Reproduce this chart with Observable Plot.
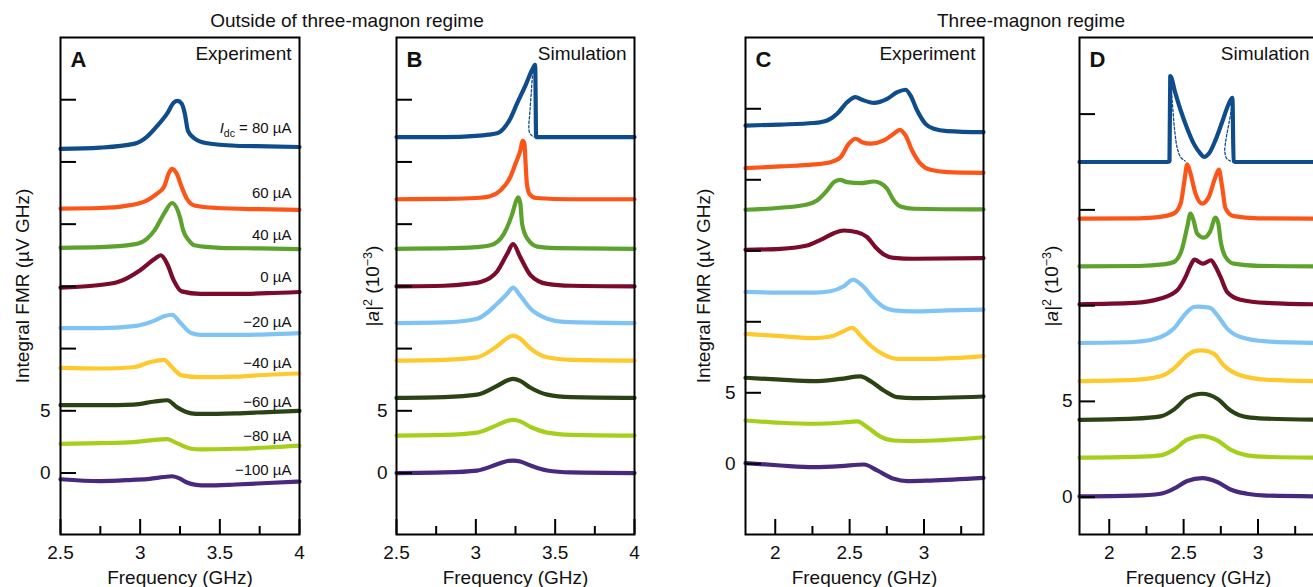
<!DOCTYPE html>
<html><head><meta charset="utf-8">
<script src="https://cdn.jsdelivr.net/npm/d3@7"></script>
<script src="https://cdn.jsdelivr.net/npm/@observablehq/plot@0.6"></script>
<style>
html,body{margin:0;padding:0;background:#fff;overflow:hidden}
#fig{position:relative;width:1313px;height:587px;overflow:hidden;font-family:"Liberation Sans",Arial,sans-serif;color:#111}
.panel{position:absolute;top:0}
.title{position:absolute;top:11px;font-size:19px;line-height:19px;transform:translateX(-50%);white-space:nowrap}
</style></head>
<body><div id="fig"></div>
<script>
// ---------- categories / ticks ----------
const currents = ["80 µA","60 µA","40 µA","0 µA","−20 µA","−40 µA","−60 µA","−80 µA","−100 µA"];
const colors   = ["#0f4c8c","#fd5418","#5ea22e","#7a0b2c","#80c4f5","#fec92c","#2b4214","#a6cf1c","#48297e"];
const curveLabelsA = ["Idc = 80 µA","60 µA","40 µA","0 µA","−20 µA","−40 µA","−60 µA","−80 µA","−100 µA"];
const labelYA = [27.7, 22.45, 19.1, 15.75, 12.1, 8.85, 5.7, 3.0, 0.2];
const freqAB_major = [2.5, 3, 3.5, 4];
const freqAB_minor = [2.75, 3.25, 3.75];
const freqCD_major = [2, 2.5, 3];
const freqCD_minor = [2.25, 2.75, 3.25];
const yTicksAB = [0, 5, 10, 15, 20, 25, 30];
const yTicksC = [0, 5, 10, 15, 20, 25];
const yTicksD = [0, 5, 10, 15, 20];
const yTickLabels = [0, 5];

// ---------- series (frequency GHz, value), order follows `currents` ----------
const expA = [
  [[2.5,26.05],[2.75,26.15],[2.96,26.45],[3.04,27.0],[3.1,27.8],[3.17,28.9],[3.21,29.75],[3.235,29.9],[3.26,29.7],[3.28,28.9],[3.30,27.5],[3.34,26.9],[3.42,26.5],[3.6,26.3],[3.8,26.25],[4.0,26.2]],
  [[2.5,21.25],[2.75,21.3],[2.9,21.45],[3.04,21.9],[3.1,22.4],[3.15,23.0],[3.18,24.1],[3.2,24.45],[3.23,24.05],[3.26,23.0],[3.295,22.0],[3.34,21.5],[3.48,21.3],[3.75,21.2],[4.0,21.15]],
  [[2.5,18.1],[2.75,18.15],[2.96,18.37],[3.04,18.8],[3.09,19.5],[3.15,20.85],[3.2,21.7],[3.25,20.55],[3.27,19.5],[3.305,18.7],[3.34,18.3],[3.5,18.1],[3.75,18.05],[4.0,18.0]],
  [[2.5,14.9],[2.7,15.05],[2.86,15.35],[3.0,16.3],[3.09,17.2],[3.13,17.5],[3.17,16.8],[3.21,15.5],[3.26,14.6],[3.38,14.4],[3.6,14.4],[3.8,14.45],[4.0,14.55]],
  [[2.5,11.65],[2.75,11.65],[2.96,11.8],[3.09,12.25],[3.15,12.6],[3.2,12.72],[3.25,12.1],[3.32,11.25],[3.38,11.1],[3.6,11.1],[3.8,11.15],[4.0,11.25]],
  [[2.5,8.45],[2.75,8.4],[2.96,8.5],[3.06,8.9],[3.15,9.1],[3.2,8.5],[3.26,7.85],[3.38,7.7],[3.6,7.75],[3.8,7.9],[4.0,8.0]],
  [[2.5,5.45],[2.75,5.45],[2.96,5.5],[3.09,5.75],[3.17,5.85],[3.23,5.3],[3.32,4.8],[3.38,4.75],[3.6,4.8],[3.8,4.9],[4.0,5.0]],
  [[2.5,2.35],[2.75,2.4],[2.96,2.48],[3.09,2.67],[3.17,2.72],[3.23,2.4],[3.32,1.95],[3.38,1.9],[3.6,1.95],[3.8,2.05],[4.0,2.2]],
  [[2.5,-0.5],[2.75,-0.65],[2.95,-0.55],[3.06,-0.47],[3.15,-0.32],[3.2,-0.26],[3.25,-0.45],[3.29,-0.74],[3.35,-0.95],[3.42,-1.0],[3.6,-0.92],[3.8,-0.8],[4.0,-0.68]]
];
const simB = [
  [[2.5,27.0],[2.8,27.0],[3.0,27.1],[3.08,27.2],[3.134,27.3],[3.176,27.7],[3.218,28.5],[3.26,29.7],[3.313,31.15],[3.355,32.4],[3.374,32.8],[3.38,27.0],[3.6,27.0],[4.0,27.0]],
  [[2.5,22.0],[2.8,22.03],[3.0,22.1],[3.09,22.25],[3.155,22.7],[3.218,23.8],[3.25,24.85],[3.28,25.9],[3.296,26.7],[3.306,26.5],[3.314,24.8],[3.322,23.2],[3.34,22.4],[3.38,22.1],[3.6,22.0],[4.0,22.0]],
  [[2.5,18.02],[2.8,18.05],[3.0,18.15],[3.092,18.3],[3.176,19.2],[3.229,20.8],[3.255,21.9],[3.267,22.15],[3.28,21.7],[3.292,20.0],[3.324,18.85],[3.387,18.2],[3.5,18.08],[4.0,18.02]],
  [[2.5,15.0],[2.8,15.05],[2.95,15.2],[3.03,15.35],[3.134,16.2],[3.197,17.6],[3.235,18.4],[3.28,17.35],[3.345,15.9],[3.45,15.2],[3.6,15.05],[4.0,15.0]],
  [[2.5,12.05],[2.8,12.1],[3.008,12.4],[3.134,13.6],[3.197,14.4],[3.235,14.9],[3.28,14.25],[3.345,13.2],[3.45,12.4],[3.555,12.15],[4.0,12.05]],
  [[2.5,9.04],[2.8,9.1],[3.008,9.3],[3.134,10.2],[3.2,10.85],[3.235,11.05],[3.28,10.8],[3.345,10.0],[3.45,9.3],[3.6,9.1],[4.0,9.04]],
  [[2.5,6.04],[2.8,6.1],[3.008,6.3],[3.134,7.0],[3.2,7.45],[3.235,7.57],[3.28,7.4],[3.345,6.85],[3.45,6.3],[3.6,6.1],[4.0,6.04]],
  [[2.5,3.01],[2.8,3.06],[3.008,3.25],[3.134,3.85],[3.2,4.2],[3.235,4.27],[3.28,4.15],[3.345,3.7],[3.45,3.25],[3.6,3.07],[4.0,3.01]],
  [[2.5,0.0],[2.8,0.05],[3.008,0.2],[3.134,0.7],[3.2,0.97],[3.235,1.0],[3.28,0.93],[3.345,0.6],[3.45,0.2],[3.6,0.05],[4.0,0.0]]
];
const dotB = [
  [[3.372,32.6],[3.361,32.2],[3.349,30.5],[3.34,28.9],[3.334,27.8],[3.34,27.3],[3.355,27.1],[3.37,27.0]]
];
const expC = [
  [[1.8,23.82],[2.035,23.89],[2.259,24.0],[2.349,24.18],[2.416,24.65],[2.484,25.47],[2.539,25.82],[2.584,25.63],[2.663,25.42],[2.752,25.7],[2.82,26.17],[2.876,26.34],[2.909,25.94],[2.954,24.88],[3.01,23.94],[3.066,23.59],[3.156,23.43],[3.4,23.35]],
  [[1.8,20.82],[2.035,20.94],[2.259,21.08],[2.371,21.24],[2.439,21.59],[2.495,22.54],[2.539,22.89],[2.584,22.65],[2.64,22.54],[2.73,22.77],[2.797,23.24],[2.837,23.52],[2.876,23.12],[2.92,22.06],[2.976,21.13],[3.043,20.7],[3.156,20.54],[3.4,20.49]],
  [[1.8,17.89],[2.035,18.03],[2.214,18.26],[2.281,18.54],[2.349,19.25],[2.394,19.83],[2.434,20.0],[2.484,19.83],[2.573,19.76],[2.663,19.88],[2.707,19.76],[2.752,19.37],[2.797,18.54],[2.842,18.12],[2.932,17.96],[3.4,17.91]],
  [[1.8,15.07],[2.035,15.14],[2.214,15.37],[2.304,15.77],[2.394,16.24],[2.461,16.43],[2.551,16.31],[2.618,15.96],[2.674,15.25],[2.73,14.74],[2.797,14.5],[2.932,14.44],[3.4,14.48]],
  [[1.8,12.1],[2.035,12.05],[2.259,12.05],[2.371,12.15],[2.461,12.5],[2.523,12.96],[2.584,12.56],[2.663,11.62],[2.73,11.03],[2.797,10.8],[2.932,10.73],[3.156,10.8],[3.4,10.85]],
  [[1.8,9.15],[2.035,8.99],[2.259,8.85],[2.371,8.96],[2.461,9.34],[2.517,9.58],[2.573,9.04],[2.64,8.33],[2.73,7.68],[2.82,7.39],[3.043,7.39],[3.4,7.58]],
  [[1.8,6.06],[2.035,5.92],[2.259,5.82],[2.439,5.98],[2.573,6.15],[2.64,5.82],[2.73,5.16],[2.82,4.69],[2.932,4.62],[3.4,4.74]],
  [[1.8,3.05],[2.035,2.89],[2.259,2.82],[2.439,2.89],[2.551,2.98],[2.618,2.58],[2.707,1.92],[2.797,1.64],[2.932,1.6],[3.4,1.87]],
  [[1.8,0.05],[2.035,-0.12],[2.259,-0.24],[2.439,-0.17],[2.596,-0.05],[2.685,-0.47],[2.797,-1.06],[2.887,-1.22],[3.043,-1.18],[3.4,-0.99]]
];
const simD = [
  [[1.8,17.5],[2.2,17.5],[2.39,17.5],[2.405,17.55],[2.41,21.98],[2.445,21.08],[2.48,20.2],[2.524,19.25],[2.568,18.46],[2.613,17.94],[2.636,17.76],[2.67,17.94],[2.714,18.64],[2.759,19.59],[2.804,20.55],[2.828,20.85],[2.836,17.55],[2.85,17.5],[3.4,17.5]],
  [[1.8,14.54],[2.2,14.56],[2.33,14.62],[2.434,14.81],[2.48,15.33],[2.506,16.55],[2.524,17.38],[2.546,16.9],[2.58,15.85],[2.625,15.33],[2.669,15.67],[2.714,16.72],[2.737,17.1],[2.759,16.2],[2.782,15.07],[2.837,14.67],[3.0,14.56],[3.4,14.54]],
  [[1.8,12.05],[2.2,12.07],[2.36,12.15],[2.434,12.28],[2.49,12.98],[2.524,14.1],[2.546,14.8],[2.565,14.5],[2.591,13.76],[2.636,13.55],[2.68,13.9],[2.714,14.6],[2.733,14.3],[2.748,13.41],[2.782,12.54],[2.837,12.19],[3.0,12.08],[3.4,12.05]],
  [[1.8,10.07],[2.165,10.14],[2.345,10.37],[2.457,10.8],[2.513,11.5],[2.55,12.15],[2.573,12.4],[2.63,12.19],[2.685,12.37],[2.71,12.1],[2.748,11.5],[2.793,10.71],[2.882,10.31],[3.06,10.14],[3.4,10.07]],
  [[1.8,8.05],[2.165,8.1],[2.345,8.36],[2.434,8.8],[2.513,9.58],[2.568,9.93],[2.6,9.95],[2.65,9.92],[2.681,9.88],[2.726,9.5],[2.793,8.8],[2.882,8.36],[3.06,8.13],[3.4,8.05]],
  [[1.8,6.06],[2.165,6.12],[2.345,6.31],[2.434,6.71],[2.524,7.4],[2.568,7.61],[2.625,7.66],[2.703,7.49],[2.77,6.88],[2.882,6.36],[3.06,6.13],[3.4,6.06]],
  [[1.8,4.04],[2.165,4.1],[2.345,4.22],[2.434,4.57],[2.524,5.19],[2.625,5.4],[2.726,5.14],[2.815,4.53],[2.926,4.18],[3.06,4.1],[3.4,4.04]],
  [[1.8,2.06],[2.165,2.1],[2.345,2.18],[2.434,2.48],[2.524,3.0],[2.625,3.19],[2.726,2.96],[2.815,2.48],[2.926,2.18],[3.06,2.1],[3.4,2.06]],
  [[1.8,0.04],[2.165,0.08],[2.345,0.18],[2.434,0.44],[2.524,0.84],[2.625,0.99],[2.726,0.79],[2.815,0.4],[2.926,0.18],[3.06,0.08],[3.4,0.04]]
];
const dotD = [
  [[2.412,21.9],[2.42,21.0],[2.43,20.0],[2.442,19.0],[2.458,18.2],[2.48,17.75],[2.51,17.55]],
  [[2.828,20.8],[2.82,20.2],[2.80,19.33],[2.784,18.64],[2.777,18.03],[2.79,17.68],[2.815,17.55]]
];

// ---------- drawing ----------
const FONT = "'Liberation Sans', Arial, Helvetica, sans-serif";
const H = 587, MT = 37, MB = 53;
const fig = document.getElementById("fig");

function toRows(series) {
  return series.flatMap((pts, i) => pts.map(([x, y]) => ({x, y, k: currents[i]})));
}

function panel(o) {
  const frameW = o.width - o.ml - o.mr;
  const frameH = H - MT - MB;
  const data = toRows(o.series).reverse();
  const marks = [
    Plot.line(data, {x: "x", y: "y", z: "k", stroke: "k", strokeWidth: 4.2, curve: "monotone-x", strokeLinejoin: "round", strokeLinecap: "round"}),
    ...(o.dotted || []).map(pts => Plot.line(pts, {x: d => d[0], y: d => d[1], stroke: colors[0], strokeWidth: 1.3, strokeDasharray: "2.5,2", curve: "catmull-rom"})),
    Plot.tickY(o.yTicks, {y: d => d, insetRight: frameW - 16, stroke: "#000", strokeWidth: 2}),
    Plot.tickX(o.xMajor, {x: d => d, insetTop: frameH - 15, stroke: "#000", strokeWidth: 2}),
    Plot.tickX(o.xMinor, {x: d => d, insetTop: frameH - 8, stroke: "#000", strokeWidth: 2}),
    Plot.frame({stroke: "#000", strokeWidth: 2}),
    Plot.axisX(o.xMajor, {tickSize: 0, tickPadding: 11, fontSize: 19, label: null, tickFormat: d => String(d)}),
    Plot.axisY(yTickLabels, {tickSize: 0, tickPadding: o.yPad, fontSize: 19, label: null, tickFormat: d => String(d)}),
    Plot.text(["Frequency (GHz)"], {text: d => d, frameAnchor: "bottom", dy: 43, fontSize: 19, lineAnchor: "middle", textAnchor: "middle"}),
    Plot.text([o.ylabel], {text: d => d, frameAnchor: "left", dx: o.ylabelDx, rotate: -90, fontSize: 19, textAnchor: "middle", lineAnchor: "middle"}),
    Plot.text([o.letter], {text: d => d, frameAnchor: "top-left", dx: 10, dy: 22, fontSize: 22, fontWeight: "bold", textAnchor: "start", lineAnchor: "middle"}),
    Plot.text([o.kind], {text: d => d, frameAnchor: "top-right", dx: -8, dy: 16, fontSize: 19, textAnchor: "end", lineAnchor: "middle"})
  ];
  if (o.curveLabels) {
    const lr = o.curveLabels.map((t, i) => ({t, y: o.labelY[i]}));
    marks.push(Plot.text(lr, {y: "y", text: "t", frameAnchor: "right", dx: -8, textAnchor: "end", lineAnchor: "middle", fontSize: 15}));
  }
  const svg = Plot.plot({
    width: o.width, height: H,
    marginTop: MT, marginBottom: MB, marginLeft: o.ml, marginRight: o.mr,
    x: {domain: o.xDomain},
    y: {domain: o.yDomain},
    color: {domain: currents, range: colors},
    style: {fontFamily: FONT, fontSize: "19px", color: "#111", background: "transparent", overflow: "visible"},
    marks
  });
  // rich text: italic symbols, sub/superscripts
  d3.select(svg).selectAll("text").each(function() {
    const t = this.textContent;
    if (t === "Idc = 80 µA") {
      this.innerHTML = '<tspan font-style="italic">I</tspan><tspan font-size="10.5" dy="4">dc</tspan><tspan dy="-4"> = 80 µA</tspan>';
    } else if (t === "|a|2 (10−3)") {
      this.innerHTML = '|<tspan font-style="italic">a</tspan>|<tspan font-size="12.5" dy="-7">2</tspan><tspan dy="7"> (10</tspan><tspan font-size="12.5" dy="-7">−3</tspan><tspan dy="7">)</tspan>';
    }
  });
  svg.classList.add("panel");
  svg.style.left = o.left + "px";
  fig.appendChild(svg);
}

panel({series: expA, xDomain: [2.5, 4], yDomain: [-4.94, 35.0], xMajor: freqAB_major, xMinor: freqAB_minor, yTicks: yTicksAB,
  left: 0, width: 330, ml: 60, mr: 31, yPad: 10, ylabel: "Integral FMR (µV GHz)", ylabelDx: -38, letter: "A", kind: "Experiment",
  curveLabels: curveLabelsA, labelY: labelYA});
panel({series: simB, dotted: dotB, xDomain: [2.5, 4], yDomain: [-4.94, 35.0], xMajor: freqAB_major, xMinor: freqAB_minor, yTicks: yTicksAB,
  left: 330, width: 350, ml: 66, mr: 46, yPad: 9, ylabel: "|a|2 (10−3)", ylabelDx: -24, letter: "B", kind: "Simulation"});
panel({series: expC, xDomain: [1.8, 3.4], yDomain: [-4.98, 30.02], xMajor: freqCD_major, xMinor: freqCD_minor, yTicks: yTicksC,
  left: 680, width: 330, ml: 65, mr: 27, yPad: 10, ylabel: "Integral FMR (µV GHz)", ylabelDx: -42, letter: "C", kind: "Experiment"});
panel({series: simD, dotted: dotD, xDomain: [1.8, 3.4], yDomain: [-1.95, 24.0], xMajor: freqCD_major, xMinor: freqCD_minor, yTicks: yTicksD,
  left: 1010, width: 330, ml: 69, mr: 23, yPad: 7, ylabel: "|a|2 (10−3)", ylabelDx: -28, letter: "D", kind: "Simulation"});

// group titles
[["Outside of three-magnon regime", 347], ["Three-magnon regime", 1031]].forEach(([t, cx]) => {
  const d = document.createElement("div");
  d.className = "title";
  d.textContent = t;
  d.style.left = cx + "px";
  fig.appendChild(d);
});
</script>
</body></html>
